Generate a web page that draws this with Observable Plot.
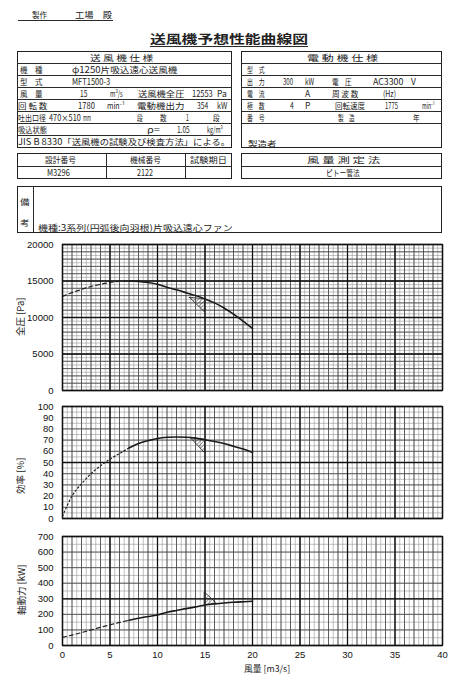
<!DOCTYPE html>
<html><head><meta charset="utf-8">
<script src="https://cdn.jsdelivr.net/npm/d3@7"></script>
<script src="https://cdn.jsdelivr.net/npm/@observablehq/plot@0.6"></script>
<style>
html,body{margin:0;padding:0;background:#fff}
body{width:451px;height:675px;position:relative;overflow:hidden;font-family:"Noto Sans CJK JP","Noto Sans",sans-serif;color:#222}
.a{position:absolute;white-space:nowrap;line-height:1}
.ln{position:absolute;background:#2a2a2a}
.box{position:absolute;box-sizing:border-box;border:1.2px solid #222}
.ch{position:absolute;left:0}
</style></head><body>
<svg width="0" height="0" style="position:absolute"><defs>
<pattern id="hatch" patternUnits="userSpaceOnUse" width="2.6" height="2.6" patternTransform="rotate(45)"><line x1="0" y1="0" x2="0" y2="2.6" stroke="#222" stroke-width="0.8"/></pattern>
</defs></svg>
<script>
// ---------- data ----------
const flow = [0,1,2,3,4,5,6,7,8,9,10,11,12,13,14,15,16,17,18,19,20];          // 風量 m3/s
const pressure = [12900,13400,13850,14250,14550,14800,14950,15000,14950,14800,14550,14150,13800,13400,13000,12550,12000,11300,10450,9500,8500]; // 全圧 Pa
const efficiency = [2,20,31,40,47,53,58,63,67,69.5,71.5,72.5,72.8,72.6,71.8,70.3,68.8,67,64.5,62,59]; // 効率 %
const power = [52,67,83,100,117,133,148,162,175,186,196,213,225,237,248,260,267,273,278,281,284]; // 軸動力 kW
const solidFrom = 7; // flow where the curves become solid

const xTicks = [0,5,10,15,20,25,30,35,40];
const pressureTicks = [0,5000,10000,15000,20000];
const effTicks = [0,10,20,30,40,50,60,70,80,90,100];
const powerTicks = [0,100,200,300,400,500,600,700];

// tolerance triangles at the design point (x, lower, upper)
const pressureTriX = [13.4, 15], pressureTriLo = [12700, 10700], pressureTriHi = [12700, 12500];
const effTriX = [13.5, 15], effTriLo = [71.8, 58.5], effTriHi = [71.8, 70.3];
const powerTriX = [15, 16.3], powerTriLo = [260, 266], powerTriHi = [340, 266];

// ---------- helpers ----------
function T(str, x0, x1, cy, size, o = {}) {
  const d = document.createElement("div");
  d.className = "a"; d.textContent = str;
  d.style.fontSize = size + "px";
  if (o.bold) d.style.fontWeight = "bold";
  if (o.family) d.style.fontFamily = o.family;
  document.body.appendChild(d);
  const w = d.offsetWidth, h = d.offsetHeight;
  d.style.left = x0 + "px";
  d.style.top = (cy - h / 2) + "px";
  if (x1 != null) { d.style.transformOrigin = "0 50%"; d.style.transform = `scaleX(${(x1 - x0) / w})`; }
  return d;
}
function V(str, cx, cy, size) {
  const d = document.createElement("div");
  d.className = "a"; d.textContent = str; d.style.fontSize = size + "px";
  document.body.appendChild(d);
  const w = d.offsetWidth, h = d.offsetHeight;
  d.style.left = (cx - w / 2) + "px"; d.style.top = (cy - h / 2) + "px";
  d.style.transform = "rotate(-90deg)";
}
function H(x0, x1, y, w = 0.8) { const d = document.createElement("div"); d.className = "ln"; Object.assign(d.style, {left: x0 + "px", top: (y - w / 2) + "px", width: (x1 - x0) + "px", height: w + "px"}); document.body.appendChild(d); }
function Vl(x, y0, y1, w = 0.8) { const d = document.createElement("div"); d.className = "ln"; Object.assign(d.style, {left: (x - w / 2) + "px", top: y0 + "px", width: w + "px", height: (y1 - y0) + "px"}); document.body.appendChild(d); }
function B(x0, y0, x1, y1) { const d = document.createElement("div"); d.className = "box"; Object.assign(d.style, {left: x0 + "px", top: y0 + "px", width: (x1 - x0) + "px", height: (y1 - y0) + "px"}); document.body.appendChild(d); }

// ---------- header ----------
const fs = 8.5;
T("製作", 32, 47, 14, 8.5);
T("工場　殿", 75, 112, 14, 8.5);
H(18, 113, 20, 0.8);
T("送風機予想性能曲線図", 150, 308, 39, 12, {bold: true});
H(150, 308, 46, 0.9);

// left spec table
B(17, 51, 232, 148);
[63.5, 75.5, 87.5, 99.5, 111.5, 123.5, 135.5].forEach(y => H(17, 232, y));
const r = [57.5, 69.5, 81.5, 93.5, 105.5, 117.5, 129.5, 141.5];
T("送 風 機 仕 様", 90, 153, r[0], fs);
T("機　種", 20, 43, r[1], fs); T("φ1250片吸込遠心送風機", 72, 177, r[1], fs);
T("型　式", 20, 43, r[2], fs); T("MFT1500-3", 72, 110, r[2], fs);
T("風　量", 20, 43, r[3], fs); T("15", 80, 87, r[3], fs); T("m³/s", 110, 123, r[3], fs);
T("送風機全圧", 138, 185, r[3], fs); T("12553", 192, 213, r[3], fs); T("Pa", 217, 227, r[3], fs);
T("回 転 数", 18, 47, r[4], fs); T("1780", 78, 95, r[4], fs); T("min⁻¹", 107, 125, r[4], fs);
T("電動機出力", 137, 185, r[4], fs); T("354", 197, 208, r[4], fs); T("kW", 217, 227, r[4], fs);
T("吐出口径", 18, 46, r[5], fs); T("470×510", 49, 81, r[5], fs); T("mm", 83, 91, r[5], fs);
T("段", 137, 143, r[5], fs); T("数", 160, 167, r[5], fs); T("1", 186, 189, r[5], fs); T("段", 213, 220, r[5], fs);
T("吸込状態", 18, 47, r[6], fs); T("ρ=", 147, 160, r[6], fs); T("1.05", 177, 190, r[6], fs); T("kg/m³", 207, 223, r[6], fs);
T("JIS B 8330「送風機の試験及び検査方法」による。", 18, 230, r[7], fs);

// right spec table
B(241, 51, 442, 148);
[63.5, 75.5, 87.5, 99.5, 111.5, 123.5].forEach(y => H(241, 442, y));
T("電 動 機 仕 様", 307, 378, r[0], fs);
T("型　式", 247, 265, r[1], fs);
T("出　力", 247, 265, r[2], fs); T("300", 283, 293, r[2], fs); T("kW", 305, 314, r[2], fs);
T("電　圧", 332, 352, r[2], fs); T("AC3300", 373, 403, r[2], fs); T("V", 411, 416, r[2], fs);
T("電　流", 247, 265, r[3], fs); T("A", 305, 310, r[3], fs); T("周 波 数", 332, 358, r[3], fs); T("(Hz)", 383, 396, r[3], fs);
T("極　数", 247, 265, r[4], fs); T("4", 290, 294, r[4], fs); T("P", 305, 310, r[4], fs);
T("回転速度", 335, 365, r[4], fs); T("1775", 385, 398, r[4], fs); T("min⁻¹", 422, 435, r[4], fs);
T("番　号", 247, 265, r[5], fs); T("製　造", 338, 355, r[5], fs); T("年", 413, 420, r[5], fs);
T("製造者", 248, 277, 143, fs);

// second row tables
B(17, 153, 232, 179); H(17, 232, 166); Vl(106, 153, 179); Vl(185, 153, 179);
T("設計番号", 45, 76, 159.5, fs); T("機械番号", 130, 161, 159.5, fs); T("試験期日", 190, 227, 159.5, fs);
T("M3296", 47, 70, 172.5, fs); T("2122", 137, 153, 172.5, fs);
B(241, 153, 442, 179); H(241, 442, 166);
T("風 量 測 定 法", 307, 380, 159.5, fs); T("ピトー管法", 326, 360, 172.5, fs);

// remarks box
B(17, 186, 442, 233); Vl(33, 186, 233);
T("備", 20, 30, 201, 8.5); T("考", 20, 30, 222, 8.5);
T("機種:3系列(円弧後向羽根)片吸込遠心ファン", 38, 233, 227, 8.5);

// ---------- charts ----------
const rows = flow.map((x, i) => ({x, p: pressure[i], e: efficiency[i], w: power[i]}));
const dashedRows = rows.filter(d => d.x <= solidFrom);
const solidRows = rows.filter(d => d.x >= solidFrom);
const tri = (X, lo, hi) => X.map((x, i) => ({x, lo: lo[i], hi: hi[i]}));

const xMinor = d3.range(0, 40.001, 0.5);
const xMid = d3.range(0, 41, 1);
const axisStyle = {fontFamily: "'Liberation Sans', Arial, sans-serif", fontSize: "9.5px", color: "#111", background: "transparent", overflow: "visible"};
const fmt = d => String(d);

function gridMarks(yMinor, yMid, yMajor) {
  return [
    Plot.ruleX(xMinor, {stroke: "#8c8c8c", strokeWidth: 0.55}),
    Plot.ruleY(yMinor, {stroke: "#8c8c8c", strokeWidth: 0.55}),
    Plot.ruleX(xMid, {stroke: "#444", strokeWidth: 0.8}),
    Plot.ruleY(yMid, {stroke: "#444", strokeWidth: 0.8}),
    Plot.ruleX(xTicks, {stroke: "#111", strokeWidth: 1.3}),
    Plot.ruleY(yMajor, {stroke: "#111", strokeWidth: 1.3})
  ];
}
function curve(field, dash) {
  return [
    Plot.line(dashedRows, {x: "x", y: field, stroke: "#222", strokeWidth: 1.2, strokeDasharray: dash, curve: "natural"}),
    Plot.line(solidRows, {x: "x", y: field, stroke: "#1a1a1a", strokeWidth: 1.6, curve: "natural"})
  ];
}
function place(svg, top) {
  const d = document.createElement("div"); d.className = "ch"; d.style.top = top + "px";
  d.appendChild(svg); document.body.appendChild(d);
}

// 全圧
place(Plot.plot({
  width: 451, height: 158, marginLeft: 62, marginRight: 9, marginTop: 8, marginBottom: 4,
  style: axisStyle,
  x: {domain: [0, 40], axis: null},
  y: {domain: [0, 20000], axis: null},
  marks: [
    ...gridMarks(d3.range(0, 20001, 500), d3.range(0, 20001, 1000), pressureTicks),
    Plot.areaY(tri(pressureTriX, pressureTriLo, pressureTriHi), {x: "x", y1: "lo", y2: "hi", fill: "url(#hatch)", stroke: "#222", strokeWidth: 0.8}),
    ...curve("p", "4,3"),
    Plot.frame({stroke: "#111", strokeWidth: 1.3}),
    Plot.axisY(pressureTicks, {tickSize: 0, tickPadding: 9, label: null, tickFormat: fmt})
  ]
}), 236);

// 効率
place(Plot.plot({
  width: 451, height: 124, marginLeft: 62, marginRight: 9, marginTop: 8, marginBottom: 4,
  style: axisStyle,
  x: {domain: [0, 40], axis: null},
  y: {domain: [0, 100], axis: null},
  marks: [
    ...gridMarks(d3.range(0, 101, 5), effTicks, [0, 50, 100]),
    Plot.areaY(tri(effTriX, effTriLo, effTriHi), {x: "x", y1: "lo", y2: "hi", fill: "url(#hatch)", stroke: "#222", strokeWidth: 0.8}),
    ...curve("e", "1.5,2.5"),
    Plot.frame({stroke: "#111", strokeWidth: 1.3}),
    Plot.axisY(effTicks, {tickSize: 0, tickPadding: 9, label: null, tickFormat: fmt})
  ]
}), 398);

// 軸動力
place(Plot.plot({
  width: 451, height: 139, marginLeft: 62, marginRight: 9, marginTop: 8, marginBottom: 22,
  style: axisStyle,
  x: {domain: [0, 40]},
  y: {domain: [0, 700]},
  marks: [
    ...gridMarks(d3.range(0, 701, 50), powerTicks, [0, 300, 700]),
    Plot.areaY(tri(powerTriX, powerTriLo, powerTriHi), {x: "x", y1: "lo", y2: "hi", fill: "url(#hatch)", stroke: "#222", strokeWidth: 0.8}),
    ...curve("w", "4,3"),
    Plot.frame({stroke: "#111", strokeWidth: 1.3}),
    Plot.axisY(powerTicks, {tickSize: 0, tickPadding: 9, label: null, tickFormat: fmt}),
    Plot.axisX(xTicks, {tickSize: 0, tickPadding: 6, label: null, tickFormat: fmt})
  ]
}), 528);

// axis titles
V("全圧 [Pa]", 21, 317, 9.5);
V("効率 [%]", 21, 476, 9.5);
V("軸動力 [kW]", 21, 590, 9.5);
T("風量 [m3/s]", 244, 290, 668.5, 9);
</script>
</body></html>
